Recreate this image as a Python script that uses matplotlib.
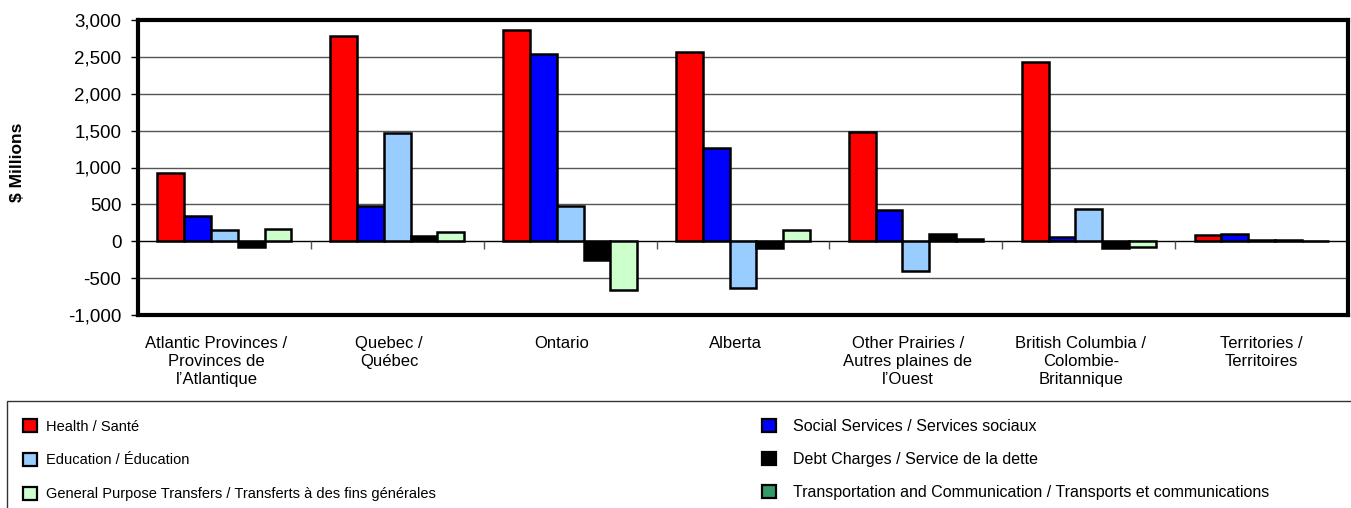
import numpy as np
import matplotlib
matplotlib.use("Agg")
from matplotlib import pyplot as plt
from matplotlib.patches import Patch, Rectangle
from matplotlib.transforms import offset_copy

plt.rcParams["font.family"] = ["Liberation Sans", "DejaVu Sans"]

# spending change by region, $ millions
regions = [
    "Atlantic Provinces /\nProvinces de\nl\u2019Atlantique",
    "Quebec /\nQu\u00e9bec",
    "Ontario",
    "Alberta",
    "Other Prairies /\nAutres plaines de\nl\u2019Ouest",
    "British Columbia /\nColombie-\nBritannique",
    "Territories /\nTerritoires",
]
health = [930, 2785, 2865, 2560, 1475, 2435, 80]
social = [340, 480, 2540, 1260, 430, 55, 95]
education = [150, 1470, 480, -640, -410, 440, 20]
debt = [-80, 70, -255, -95, 95, -85, 20]
general = [165, 130, -660, 155, 35, -80, 5]

series = [
    ("Health / Sant\u00e9", health, "#ff0000"),
    ("Social Services / Services sociaux", social, "#0000ff"),
    ("Education / \u00c9ducation", education, "#99ccff"),
    ("Debt Charges / Service de la dette", debt, "#000000"),
    ("General Purpose Transfers / Transferts \u00e0 des fins g\u00e9n\u00e9rales", general, "#ccffcc"),
]
transport_label = "Transportation and Communication / Transports et communications"
transport_color = "#339966"

fig = plt.figure(figsize=(13.51, 5.08), dpi=100)
ax = fig.add_axes([138 / 1351, 1 - 315 / 508, 1210 / 1351, 295 / 508])

x = np.arange(len(regions))
width = 0.155
for k, (label, values, color) in enumerate(series):
    ax.bar(x + (k - 2) * width, values, width, color=color,
           edgecolor="black", linewidth=1.8, zorder=3, label=label)

ax.set_xlim(-0.5, len(regions) - 0.5)
ax.set_ylim(-1000, 3000)
ax.set_yticks(np.arange(-1000, 3001, 500))
ax.yaxis.set_major_formatter(matplotlib.ticker.FuncFormatter(lambda v, p: f"{int(v):,}"))
ax.tick_params(axis="y", labelsize=13.5, length=5, width=1, direction="out", pad=7)
ax.set_xticks(x)
ax.set_xticklabels(regions, fontsize=12, linespacing=1.25, va="top")
ax.tick_params(axis="x", length=0, pad=15)
# wrapped labels sit a little left of the group centre
for lbl in ax.get_xticklabels()[:-1]:
    lbl.set_transform(offset_copy(lbl.get_transform(), fig=fig, x=-8, units="dots"))

# grid and category axis at zero
for v in [-500, 500, 1000, 1500, 2000, 2500]:
    ax.axhline(v, color="#555555", linewidth=1, zorder=1)
ax.axhline(0, color="black", linewidth=1, zorder=2)
ax.vlines(x[:-1] + 0.5, -110, 0, color="#555555", linewidth=1, zorder=2)

for side in ax.spines.values():
    side.set_linewidth(3)
    side.set_color("black")

fig.text(18 / 1351, 1 - 162 / 508, "$ Millions", rotation=90, fontsize=12.5,
         fontweight="bold", ha="center", va="center")

# legend box runs off the right and bottom edges
fig.patches.append(Rectangle((7 / 1351, -0.1), 1.1, 1 - 401 / 508 + 0.1,
                             transform=fig.transFigure, fill=False,
                             edgecolor="#333333", linewidth=1))

left_items = [series[0], series[2], series[4]]
right_items = [series[1], series[3]]
left_handles = [Patch(facecolor=c, edgecolor="black", linewidth=1.6) for _, _, c in left_items]
right_handles = [Patch(facecolor=c, edgecolor="black", linewidth=1.6) for _, _, c in right_items]
right_handles.append(Patch(facecolor=transport_color, edgecolor="black", linewidth=1.6))
right_labels = [lbl for lbl, _, _ in right_items] + [transport_label]

fig.legend(left_handles, [lbl for lbl, _, _ in left_items], loc="upper left",
           bbox_to_anchor=(23 / 1351, 1 - 419 / 508), frameon=False, fontsize=10.5,
           handlelength=0.95, handleheight=1.0, handletextpad=0.65,
           labelspacing=1.32, borderaxespad=0, borderpad=0)
fig.legend(right_handles, right_labels, loc="upper left",
           bbox_to_anchor=(762 / 1351, 1 - 419 / 508), frameon=False, fontsize=11.5,
           handlelength=0.87, handleheight=0.9, handletextpad=1.1,
           labelspacing=1.12, borderaxespad=0, borderpad=0)

fig.savefig("out.png", dpi=100)
